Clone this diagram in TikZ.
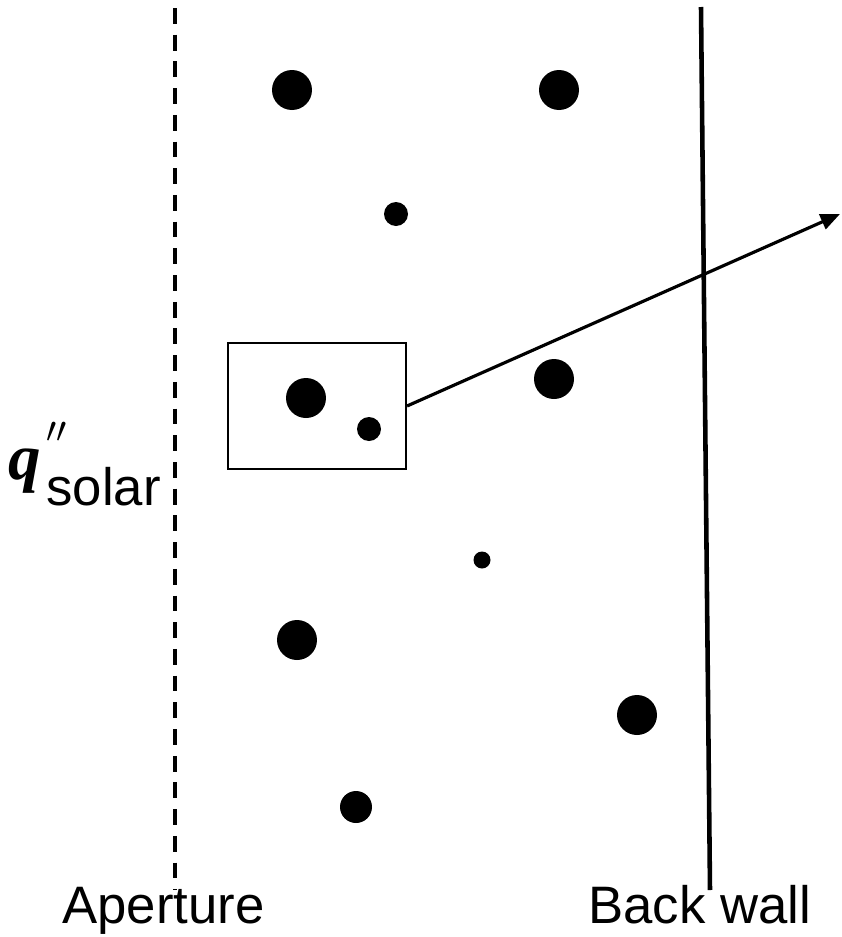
\documentclass[tikz,border=0pt]{standalone}
\usepackage{fontspec}
\setmainfont{Liberation Sans}
\newfontfamily\qfont{Liberation Serif}
\usetikzlibrary{arrows.meta, positioning}
\tikzstyle{particle} = [circle, fill=black, draw=none, inner sep=0pt]
\tikzstyle{walltext} = [font=\fontsize{30}{36}\selectfont, inner sep=0pt, anchor=base west]
\tikzstyle{arrow} = [line width=1.8pt, -{Triangle[length=11pt, width=9pt]}]

\begin{document}
\begin{tikzpicture}[x=0.02cm, y=-0.02cm]

    % frame of the picture
    \useasboundingbox (0,0) rectangle (842,937);

    % ===============================
    % 1. WALLS
    % ===============================
    \coordinate (aperture_top) at (175,8);
    \coordinate (aperture_bot) at (175,890);
    \draw[line width=2pt, dash pattern=on 9pt off 6.2pt] (aperture_top) -- (aperture_bot);

    \coordinate (back_top) at (701,7);
    \coordinate (back_bot) at (710,890);
    \draw[line width=2.6pt] (back_top) -- (back_bot);

    % Labels
    \node[walltext] (aperture) at (62,923) {Aperture};
    \node[walltext] (backwall) at (588,923) {Back wall};
    \node[font=\fontsize{37}{42}\selectfont\qfont\bfseries\itshape, inner sep=0pt, anchor=base west] (qsym) at (8,479) {q};
    \node[font=\fontsize{32}{36}\selectfont, inner sep=0pt, anchor=base west] (qprime) at (46,458) {$''$};
    \node[walltext, anchor=base west] (solar) at (46,505) {solar};

    % ===============================
    % 2. PARTICLES
    % ===============================
    \node[particle, minimum size=0.8cm]  (p1)  at (292,90)  {};
    \node[particle, minimum size=0.8cm]  (p2)  at (559,90)  {};
    \node[particle, minimum size=0.48cm] (p3)  at (396,214) {};
    \node[particle, minimum size=0.8cm]  (p4)  at (306,398) {};
    \node[particle, minimum size=0.48cm] (p5)  at (369,429) {};
    \node[particle, minimum size=0.8cm]  (p6)  at (554,379) {};
    \node[particle, minimum size=0.34cm] (p7)  at (482,560) {};
    \node[particle, minimum size=0.8cm]  (p8)  at (297,640) {};
    \node[particle, minimum size=0.8cm]  (p9)  at (637,715) {};
    \node[particle, minimum size=0.64cm] (p10) at (356,807) {};

    % ===============================
    % 3. CONTROL VOLUME AND RAY
    % ===============================
    \node[draw, line width=1.2pt, minimum width=3.56cm, minimum height=2.52cm, inner sep=0pt] (cell) at (317,406) {};
    \coordinate (exit) at (840,214);
    \draw[arrow] (cell.east) -- (exit);

\end{tikzpicture}
\end{document}
